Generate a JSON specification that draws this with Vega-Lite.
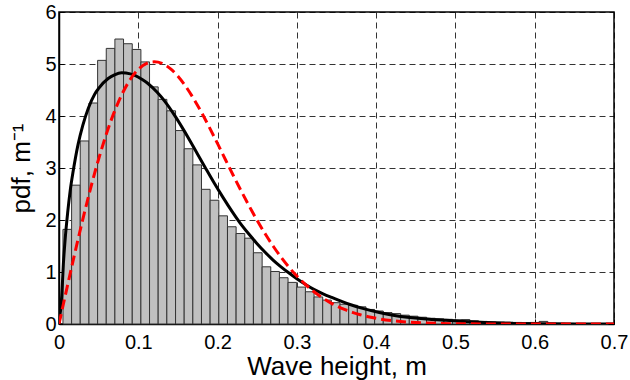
{
  "$schema": "https://vega.github.io/schema/vega-lite/v6.json",
  "width": 555,
  "height": 312,
  "autosize": {"type": "none"},
  "padding": {"left": 59, "top": 12, "right": 16, "bottom": 56},
  "background": "white",
  "config": {
    "view": {"stroke": "black", "strokeWidth": 1.5},
    "font": "Liberation Sans",
    "axis": {
      "domainColor": "black", "domainWidth": 1.5,
      "tickColor": "black", "tickSize": -5, "tickWidth": 1,
      "labelColor": "black", "titleColor": "black",
      "labelFont": "Liberation Sans", "titleFont": "Liberation Sans",
      "labelFontSize": 20, "titleFontSize": 26, "titleFontWeight": "normal",
      "grid": true, "gridColor": "black", "gridDash": [6, 4], "gridWidth": 1, "gridOpacity": 0.8
    }
  },
  "datasets": {
    "hist": [
      {"x0": 0.0050, "x1": 0.0159, "d": 1.82},
      {"x0": 0.0159, "x1": 0.0268, "d": 2.67},
      {"x0": 0.0268, "x1": 0.0378, "d": 3.52},
      {"x0": 0.0378, "x1": 0.0487, "d": 4.25},
      {"x0": 0.0487, "x1": 0.0596, "d": 5.07},
      {"x0": 0.0596, "x1": 0.0705, "d": 5.30},
      {"x0": 0.0705, "x1": 0.0814, "d": 5.48},
      {"x0": 0.0814, "x1": 0.0924, "d": 5.39},
      {"x0": 0.0924, "x1": 0.1033, "d": 5.28},
      {"x0": 0.1033, "x1": 0.1142, "d": 5.04},
      {"x0": 0.1142, "x1": 0.1251, "d": 4.56},
      {"x0": 0.1251, "x1": 0.1360, "d": 4.32},
      {"x0": 0.1360, "x1": 0.1470, "d": 4.10},
      {"x0": 0.1470, "x1": 0.1579, "d": 3.72},
      {"x0": 0.1579, "x1": 0.1688, "d": 3.37},
      {"x0": 0.1688, "x1": 0.1797, "d": 3.06},
      {"x0": 0.1797, "x1": 0.1906, "d": 2.59},
      {"x0": 0.1906, "x1": 0.2016, "d": 2.38},
      {"x0": 0.2016, "x1": 0.2125, "d": 2.08},
      {"x0": 0.2125, "x1": 0.2234, "d": 1.87},
      {"x0": 0.2234, "x1": 0.2343, "d": 1.74},
      {"x0": 0.2343, "x1": 0.2452, "d": 1.65},
      {"x0": 0.2452, "x1": 0.2562, "d": 1.37},
      {"x0": 0.2562, "x1": 0.2671, "d": 1.10},
      {"x0": 0.2671, "x1": 0.2780, "d": 1.01},
      {"x0": 0.2780, "x1": 0.2889, "d": 0.89},
      {"x0": 0.2889, "x1": 0.2998, "d": 0.80},
      {"x0": 0.2998, "x1": 0.3108, "d": 0.71},
      {"x0": 0.3108, "x1": 0.3217, "d": 0.62},
      {"x0": 0.3217, "x1": 0.3326, "d": 0.52},
      {"x0": 0.3326, "x1": 0.3435, "d": 0.46},
      {"x0": 0.3435, "x1": 0.3544, "d": 0.41},
      {"x0": 0.3544, "x1": 0.3654, "d": 0.38},
      {"x0": 0.3654, "x1": 0.3763, "d": 0.36},
      {"x0": 0.3763, "x1": 0.3872, "d": 0.33},
      {"x0": 0.3872, "x1": 0.3981, "d": 0.28},
      {"x0": 0.3981, "x1": 0.4090, "d": 0.25},
      {"x0": 0.4090, "x1": 0.4200, "d": 0.22},
      {"x0": 0.4200, "x1": 0.4309, "d": 0.20},
      {"x0": 0.4309, "x1": 0.4418, "d": 0.17},
      {"x0": 0.4418, "x1": 0.4527, "d": 0.15},
      {"x0": 0.4527, "x1": 0.4636, "d": 0.13},
      {"x0": 0.4636, "x1": 0.4746, "d": 0.11},
      {"x0": 0.4746, "x1": 0.4855, "d": 0.10},
      {"x0": 0.4855, "x1": 0.4964, "d": 0.09},
      {"x0": 0.4964, "x1": 0.5073, "d": 0.08},
      {"x0": 0.5073, "x1": 0.5182, "d": 0.085},
      {"x0": 0.5182, "x1": 0.5292, "d": 0.06},
      {"x0": 0.5292, "x1": 0.5401, "d": 0.05},
      {"x0": 0.5401, "x1": 0.5510, "d": 0.045},
      {"x0": 0.5510, "x1": 0.5619, "d": 0.04},
      {"x0": 0.5619, "x1": 0.5728, "d": 0.035},
      {"x0": 0.5728, "x1": 0.5838, "d": 0.03},
      {"x0": 0.5838, "x1": 0.5947, "d": 0.025},
      {"x0": 0.5947, "x1": 0.6056, "d": 0.03},
      {"x0": 0.6056, "x1": 0.6165, "d": 0.05},
      {"x0": 0.6165, "x1": 0.6274, "d": 0.02},
      {"x0": 0.6274, "x1": 0.6384, "d": 0.015},
      {"x0": 0.6384, "x1": 0.6493, "d": 0.012},
      {"x0": 0.6493, "x1": 0.6602, "d": 0.01},
      {"x0": 0.6602, "x1": 0.6711, "d": 0.008},
      {"x0": 0.6711, "x1": 0.6820, "d": 0.006},
      {"x0": 0.6820, "x1": 0.6930, "d": 0.005}
    ],
    "fit": [
      {"h": 0, "p": 0}, {"h": 0.0035, "p": 0.55}, {"h": 0.0055, "p": 1.15}, {"h": 0.0076, "p": 1.6},
      {"h": 0.011, "p": 2.15}, {"h": 0.014, "p": 2.55}, {"h": 0.018, "p": 2.95}, {"h": 0.024, "p": 3.45},
      {"h": 0.03, "p": 3.82}, {"h": 0.037, "p": 4.15}, {"h": 0.045, "p": 4.42}, {"h": 0.05, "p": 4.53},
      {"h": 0.062, "p": 4.72}, {"h": 0.07, "p": 4.79}, {"h": 0.079, "p": 4.83}, {"h": 0.09, "p": 4.81},
      {"h": 0.0957, "p": 4.78}, {"h": 0.105, "p": 4.70}, {"h": 0.1125, "p": 4.62}, {"h": 0.1235, "p": 4.46},
      {"h": 0.1335, "p": 4.28}, {"h": 0.145, "p": 4.03}, {"h": 0.1545, "p": 3.80}, {"h": 0.165, "p": 3.53},
      {"h": 0.175, "p": 3.26}, {"h": 0.184, "p": 3.02}, {"h": 0.195, "p": 2.73}, {"h": 0.207, "p": 2.43},
      {"h": 0.218, "p": 2.17}, {"h": 0.228, "p": 1.95}, {"h": 0.24, "p": 1.72}, {"h": 0.249, "p": 1.56},
      {"h": 0.26, "p": 1.38}, {"h": 0.27, "p": 1.23}, {"h": 0.28, "p": 1.10}, {"h": 0.291, "p": 0.97},
      {"h": 0.30, "p": 0.87}, {"h": 0.312, "p": 0.75}, {"h": 0.322, "p": 0.66}, {"h": 0.333, "p": 0.58},
      {"h": 0.344, "p": 0.51}, {"h": 0.354, "p": 0.45}, {"h": 0.368, "p": 0.37}, {"h": 0.383, "p": 0.30},
      {"h": 0.404, "p": 0.22}, {"h": 0.425, "p": 0.16}, {"h": 0.446, "p": 0.12}, {"h": 0.467, "p": 0.09},
      {"h": 0.488, "p": 0.07}, {"h": 0.51, "p": 0.05}, {"h": 0.53, "p": 0.035}, {"h": 0.55, "p": 0.02},
      {"h": 0.57, "p": 0.012}, {"h": 0.6, "p": 0.006}, {"h": 0.65, "p": 0.002}, {"h": 0.7, "p": 0.001}
    ],
    "rayleigh": [
      {"h": 0, "p": 0}, {"h": 0.01, "p": 0.69}, {"h": 0.02, "p": 1.365}, {"h": 0.03, "p": 2.012},
      {"h": 0.04, "p": 2.619}, {"h": 0.05, "p": 3.173}, {"h": 0.06, "p": 3.666}, {"h": 0.07, "p": 4.088},
      {"h": 0.08, "p": 4.435}, {"h": 0.09, "p": 4.707}, {"h": 0.10, "p": 4.897}, {"h": 0.11, "p": 5.008},
      {"h": 0.12, "p": 5.041}, {"h": 0.13, "p": 5.013}, {"h": 0.14, "p": 4.917}, {"h": 0.15, "p": 4.766},
      {"h": 0.16, "p": 4.566}, {"h": 0.17, "p": 4.328}, {"h": 0.18, "p": 4.061}, {"h": 0.19, "p": 3.771},
      {"h": 0.20, "p": 3.468}, {"h": 0.21, "p": 3.159}, {"h": 0.22, "p": 2.851}, {"h": 0.23, "p": 2.553},
      {"h": 0.24, "p": 2.264}, {"h": 0.25, "p": 1.990}, {"h": 0.26, "p": 1.735}, {"h": 0.27, "p": 1.500},
      {"h": 0.28, "p": 1.285}, {"h": 0.29, "p": 1.093}, {"h": 0.30, "p": 0.922}, {"h": 0.31, "p": 0.772},
      {"h": 0.32, "p": 0.640}, {"h": 0.33, "p": 0.527}, {"h": 0.34, "p": 0.431}, {"h": 0.35, "p": 0.349},
      {"h": 0.36, "p": 0.281}, {"h": 0.37, "p": 0.225}, {"h": 0.38, "p": 0.178}, {"h": 0.39, "p": 0.140},
      {"h": 0.40, "p": 0.109}, {"h": 0.42, "p": 0.065}, {"h": 0.44, "p": 0.038}, {"h": 0.46, "p": 0.021},
      {"h": 0.48, "p": 0.011}, {"h": 0.50, "p": 0.006}, {"h": 0.55, "p": 0.001}, {"h": 0.60, "p": 0},
      {"h": 0.70, "p": 0}
    ]
  },
  "layer": [
    {
      "data": {"name": "hist"},
      "mark": {"type": "rect", "fill": "#c0c0c0", "stroke": "#333333", "strokeWidth": 1},
      "encoding": {
        "x": {"field": "x0", "type": "quantitative",
              "scale": {"domain": [0, 0.7], "nice": false},
              "axis": {"values": [0, 0.1, 0.2, 0.3, 0.4, 0.5, 0.6, 0.7], "format": "~g", "labelFlush": false, "labelPadding": 13, "title": "Wave height, m", "titlePadding": 1}},
        "x2": {"field": "x1"},
        "y": {"field": "d", "type": "quantitative",
              "scale": {"domain": [0, 6], "nice": false},
              "axis": {"values": [0, 1, 2, 3, 4, 5, 6], "labelPadding": 8, "title": "pdf, m⁻¹", "titlePadding": 10}},
        "y2": {"datum": 0}
      }
    },
    {
      "data": {"name": "fit"},
      "mark": {"type": "line", "color": "black", "strokeWidth": 3, "interpolate": "monotone", "clip": true},
      "encoding": {
        "x": {"field": "h", "type": "quantitative"},
        "y": {"field": "p", "type": "quantitative"}
      }
    },
    {
      "data": {"name": "rayleigh"},
      "mark": {"type": "line", "color": "#ff0000", "strokeWidth": 3, "strokeDash": [10, 5], "interpolate": "monotone", "clip": true},
      "encoding": {
        "x": {"field": "h", "type": "quantitative"},
        "y": {"field": "p", "type": "quantitative"}
      }
    }
  ]
}
